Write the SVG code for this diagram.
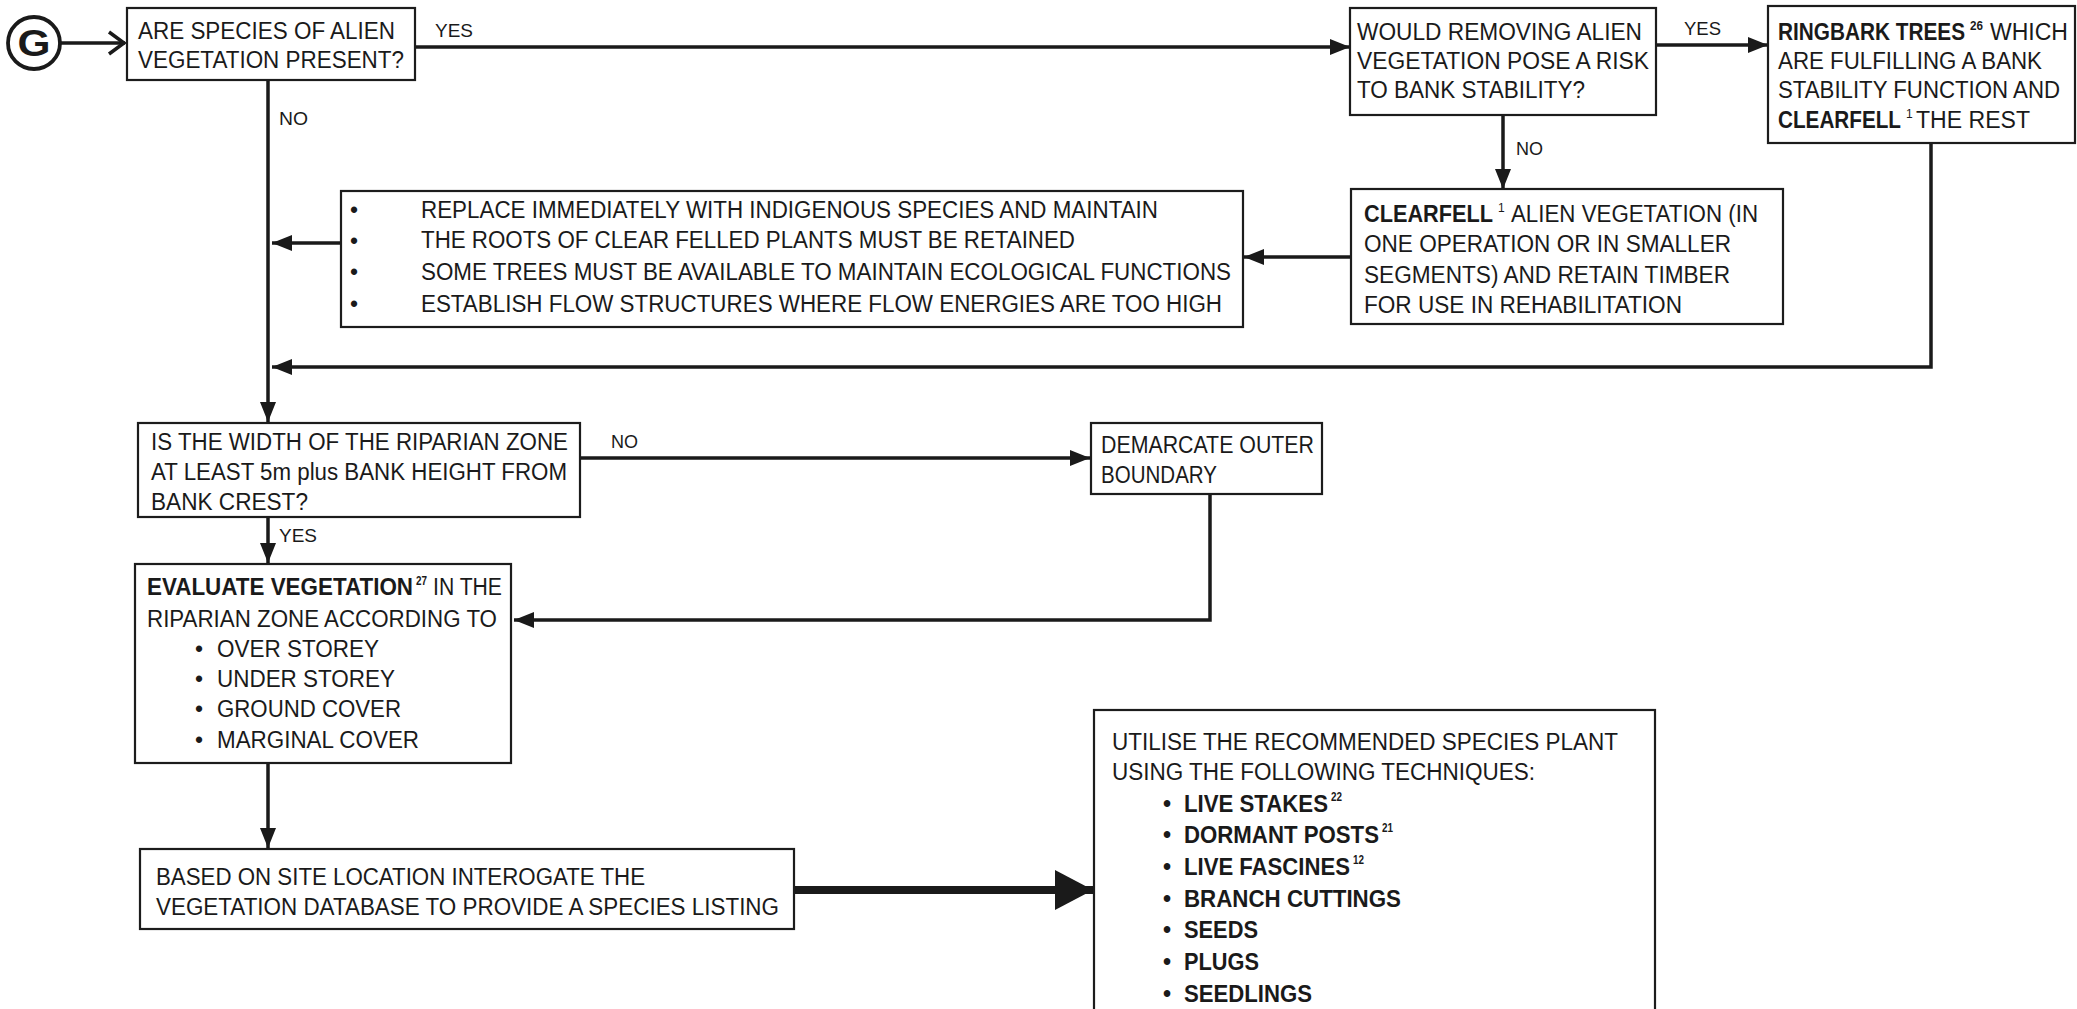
<svg xmlns="http://www.w3.org/2000/svg" width="2077" height="1009" viewBox="0 0 2077 1009">
  <defs>
    <style>
      .box { fill: #ffffff; stroke: #1c1c1c; stroke-width: 2.2; }
      .edge { fill: none; stroke: #1a1a1a; stroke-width: 3.5; }
      .thick { fill: none; stroke: #1a1a1a; stroke-width: 8; }
      text { font-family: "Liberation Sans", Arial, sans-serif; fill: #1a1a1a; }
      .t { font-size: 23px; }
      .b { font-size: 23px; font-weight: bold; }
      .sup { font-size: 12px; }
      .supb { font-size: 12px; font-weight: bold; }
      .lbl { font-size: 19px; }
    </style>
    <marker id="arrow" markerUnits="userSpaceOnUse" markerWidth="20" markerHeight="16" refX="20" refY="8" orient="auto">
      <path d="M0,0 L20,8 L0,16 z" fill="#1a1a1a"/>
    </marker>
    <marker id="arrowBig" markerUnits="userSpaceOnUse" markerWidth="38" markerHeight="40" refX="38" refY="20" orient="auto">
      <path d="M0,0 L38,20 L0,40 z" fill="#1a1a1a"/>
    </marker>
  </defs>

  <rect width="2077" height="1009" fill="#ffffff"/>

  <!-- connectors -->
  <g id="connectors">
    <line class="edge" x1="61" y1="43" x2="125" y2="43"/>
    <polyline class="edge" points="109,32 124,43 109,54"/>
    <line class="edge" x1="415" y1="47" x2="1350" y2="47" marker-end="url(#arrow)"/>
    <line class="edge" x1="1656" y1="45" x2="1768" y2="45" marker-end="url(#arrow)"/>
    <line class="edge" x1="1503" y1="115" x2="1503" y2="189" marker-end="url(#arrow)"/>
    <line class="edge" x1="1351" y1="257" x2="1244" y2="257" marker-end="url(#arrow)"/>
    <line class="edge" x1="341" y1="243" x2="272" y2="243" marker-end="url(#arrow)"/>
    <polyline class="edge" points="1931,143 1931,367 272,367" marker-end="url(#arrow)"/>
    <line class="edge" x1="268" y1="80" x2="268" y2="422" marker-end="url(#arrow)"/>
    <line class="edge" x1="580" y1="458" x2="1090" y2="458" marker-end="url(#arrow)"/>
    <line class="edge" x1="268" y1="517" x2="268" y2="563" marker-end="url(#arrow)"/>
    <polyline class="edge" points="1210,494 1210,620 514,620" marker-end="url(#arrow)"/>
    <line class="edge" x1="268" y1="763" x2="268" y2="848" marker-end="url(#arrow)"/>
    <line class="thick" x1="794" y1="890" x2="1093" y2="890" marker-end="url(#arrowBig)"/>

    <text class="lbl" x="435" y="37" textLength="38" lengthAdjust="spacingAndGlyphs">YES</text>
    <text class="lbl" x="1684" y="35" textLength="37" lengthAdjust="spacingAndGlyphs">YES</text>
    <text class="lbl" x="1516" y="155" textLength="27" lengthAdjust="spacingAndGlyphs">NO</text>
    <text class="lbl" x="279" y="125" textLength="29" lengthAdjust="spacingAndGlyphs">NO</text>
    <text class="lbl" x="611" y="448" textLength="27" lengthAdjust="spacingAndGlyphs">NO</text>
    <text class="lbl" x="279" y="542" textLength="38" lengthAdjust="spacingAndGlyphs">YES</text>
  </g>

  <!-- entry connector G -->
  <g id="start-g">
    <circle cx="34" cy="43" r="26" fill="#ffffff" stroke="#1a1a1a" stroke-width="3.8"/>
    <text x="34" y="56" text-anchor="middle" textLength="33" lengthAdjust="spacingAndGlyphs" style="font-size:37px;font-weight:bold;">G</text>
  </g>

  <g id="alien-present">
    <rect class="box" x="127" y="8" width="288" height="72"/>
    <text class="t" x="138" y="39" textLength="257" lengthAdjust="spacingAndGlyphs">ARE SPECIES OF ALIEN</text>
    <text class="t" x="138" y="68" textLength="266" lengthAdjust="spacingAndGlyphs">VEGETATION PRESENT?</text>
  </g>

  <g id="removal-risk">
    <rect class="box" x="1350" y="8" width="306" height="107"/>
    <text class="t" x="1357" y="40" textLength="285" lengthAdjust="spacingAndGlyphs">WOULD REMOVING ALIEN</text>
    <text class="t" x="1357" y="69" textLength="292" lengthAdjust="spacingAndGlyphs">VEGETATION POSE A RISK</text>
    <text class="t" x="1357" y="98" textLength="228" lengthAdjust="spacingAndGlyphs">TO BANK STABILITY?</text>
  </g>

  <g id="ringbark">
    <rect class="box" x="1768" y="6" width="307" height="137"/>
    <text class="b" x="1778" y="40" textLength="187" lengthAdjust="spacingAndGlyphs">RINGBARK TREES</text>
    <text class="supb" x="1970" y="30" textLength="13" lengthAdjust="spacingAndGlyphs">26</text>
    <text class="t" x="1990" y="40" textLength="78" lengthAdjust="spacingAndGlyphs">WHICH</text>
    <text class="t" x="1778" y="69" textLength="264" lengthAdjust="spacingAndGlyphs">ARE FULFILLING A BANK</text>
    <text class="t" x="1778" y="98" textLength="282" lengthAdjust="spacingAndGlyphs">STABILITY FUNCTION AND</text>
    <text class="b" x="1778" y="128" textLength="123" lengthAdjust="spacingAndGlyphs">CLEARFELL</text>
    <text class="sup" x="1906" y="118">1</text>
    <text class="t" x="1916" y="128" textLength="114" lengthAdjust="spacingAndGlyphs">THE REST</text>
  </g>

  <g id="clearfell">
    <rect class="box" x="1351" y="189" width="432" height="135"/>
    <text class="b" x="1364" y="222" textLength="129" lengthAdjust="spacingAndGlyphs">CLEARFELL</text>
    <text class="sup" x="1498" y="212">1</text>
    <text class="t" x="1511" y="222" textLength="247" lengthAdjust="spacingAndGlyphs">ALIEN VEGETATION (IN</text>
    <text class="t" x="1364" y="252" textLength="367" lengthAdjust="spacingAndGlyphs">ONE OPERATION OR IN SMALLER</text>
    <text class="t" x="1364" y="283" textLength="366" lengthAdjust="spacingAndGlyphs">SEGMENTS) AND RETAIN TIMBER</text>
    <text class="t" x="1364" y="313" textLength="318" lengthAdjust="spacingAndGlyphs">FOR USE IN REHABILITATION</text>
  </g>

  <g id="rehab-notes">
    <rect class="box" x="341" y="191" width="902" height="136"/>
    <text class="t" x="350" y="218">•</text>
    <text class="t" x="350" y="249">•</text>
    <text class="t" x="350" y="280">•</text>
    <text class="t" x="350" y="312">•</text>
    <text class="t" x="421" y="218" textLength="737" lengthAdjust="spacingAndGlyphs">REPLACE IMMEDIATELY WITH INDIGENOUS SPECIES AND MAINTAIN</text>
    <text class="t" x="421" y="248" textLength="654" lengthAdjust="spacingAndGlyphs">THE ROOTS OF CLEAR FELLED PLANTS MUST BE RETAINED</text>
    <text class="t" x="421" y="280" textLength="810" lengthAdjust="spacingAndGlyphs">SOME TREES MUST BE AVAILABLE TO MAINTAIN ECOLOGICAL FUNCTIONS</text>
    <text class="t" x="421" y="312" textLength="801" lengthAdjust="spacingAndGlyphs">ESTABLISH FLOW STRUCTURES WHERE FLOW ENERGIES ARE TOO HIGH</text>
  </g>

  <g id="zone-width">
    <rect class="box" x="138" y="423" width="442" height="94"/>
    <text class="t" x="151" y="450" textLength="417" lengthAdjust="spacingAndGlyphs">IS THE WIDTH OF THE RIPARIAN ZONE</text>
    <text class="t" x="151" y="480" textLength="416" lengthAdjust="spacingAndGlyphs">AT LEAST 5m plus BANK HEIGHT FROM</text>
    <text class="t" x="151" y="510" textLength="157" lengthAdjust="spacingAndGlyphs">BANK CREST?</text>
  </g>

  <g id="demarcate">
    <rect class="box" x="1091" y="423" width="231" height="71"/>
    <text class="t" x="1101" y="453" textLength="213" lengthAdjust="spacingAndGlyphs">DEMARCATE OUTER</text>
    <text class="t" x="1101" y="483" textLength="116" lengthAdjust="spacingAndGlyphs">BOUNDARY</text>
  </g>

  <g id="evaluate">
    <rect class="box" x="135" y="564" width="376" height="199"/>
    <text class="b" x="147" y="595" textLength="266" lengthAdjust="spacingAndGlyphs">EVALUATE VEGETATION</text>
    <text class="supb" x="416" y="585" textLength="11" lengthAdjust="spacingAndGlyphs">27</text>
    <text class="t" x="433" y="595" textLength="69" lengthAdjust="spacingAndGlyphs">IN THE</text>
    <text class="t" x="147" y="627" textLength="350" lengthAdjust="spacingAndGlyphs">RIPARIAN ZONE ACCORDING TO</text>
    <text class="t" x="195" y="657">•</text>
    <text class="t" x="195" y="687">•</text>
    <text class="t" x="195" y="717">•</text>
    <text class="t" x="195" y="748">•</text>
    <text class="t" x="217" y="657" textLength="162" lengthAdjust="spacingAndGlyphs">OVER STOREY</text>
    <text class="t" x="217" y="687" textLength="178" lengthAdjust="spacingAndGlyphs">UNDER STOREY</text>
    <text class="t" x="217" y="717" textLength="184" lengthAdjust="spacingAndGlyphs">GROUND COVER</text>
    <text class="t" x="217" y="748" textLength="202" lengthAdjust="spacingAndGlyphs">MARGINAL COVER</text>
  </g>

  <g id="species-listing">
    <rect class="box" x="140" y="849" width="654" height="80"/>
    <text class="t" x="156" y="885" textLength="489" lengthAdjust="spacingAndGlyphs">BASED ON SITE LOCATION INTEROGATE THE</text>
    <text class="t" x="156" y="915" textLength="623" lengthAdjust="spacingAndGlyphs">VEGETATION DATABASE TO PROVIDE A SPECIES LISTING</text>
  </g>

  <g id="planting">
    <rect class="box" x="1094" y="710" width="561" height="310"/>
    <text class="t" x="1112" y="750" textLength="506" lengthAdjust="spacingAndGlyphs">UTILISE THE RECOMMENDED SPECIES PLANT</text>
    <text class="t" x="1112" y="780" textLength="423" lengthAdjust="spacingAndGlyphs">USING THE FOLLOWING TECHNIQUES:</text>
    <text class="b" x="1163" y="812">•</text>
    <text class="b" x="1163" y="843">•</text>
    <text class="b" x="1163" y="875">•</text>
    <text class="b" x="1163" y="907">•</text>
    <text class="b" x="1163" y="938">•</text>
    <text class="b" x="1163" y="970">•</text>
    <text class="b" x="1163" y="1002">•</text>
    <text class="b" x="1184" y="812" textLength="144" lengthAdjust="spacingAndGlyphs">LIVE STAKES</text>
    <text class="supb" x="1331" y="801" textLength="11" lengthAdjust="spacingAndGlyphs">22</text>
    <text class="b" x="1184" y="843" textLength="195" lengthAdjust="spacingAndGlyphs">DORMANT POSTS</text>
    <text class="supb" x="1382" y="832" textLength="11" lengthAdjust="spacingAndGlyphs">21</text>
    <text class="b" x="1184" y="875" textLength="166" lengthAdjust="spacingAndGlyphs">LIVE FASCINES</text>
    <text class="supb" x="1353" y="864" textLength="11" lengthAdjust="spacingAndGlyphs">12</text>
    <text class="b" x="1184" y="907" textLength="217" lengthAdjust="spacingAndGlyphs">BRANCH CUTTINGS</text>
    <text class="b" x="1184" y="938" textLength="74" lengthAdjust="spacingAndGlyphs">SEEDS</text>
    <text class="b" x="1184" y="970" textLength="75" lengthAdjust="spacingAndGlyphs">PLUGS</text>
    <text class="b" x="1184" y="1002" textLength="128" lengthAdjust="spacingAndGlyphs">SEEDLINGS</text>
  </g>
</svg>
